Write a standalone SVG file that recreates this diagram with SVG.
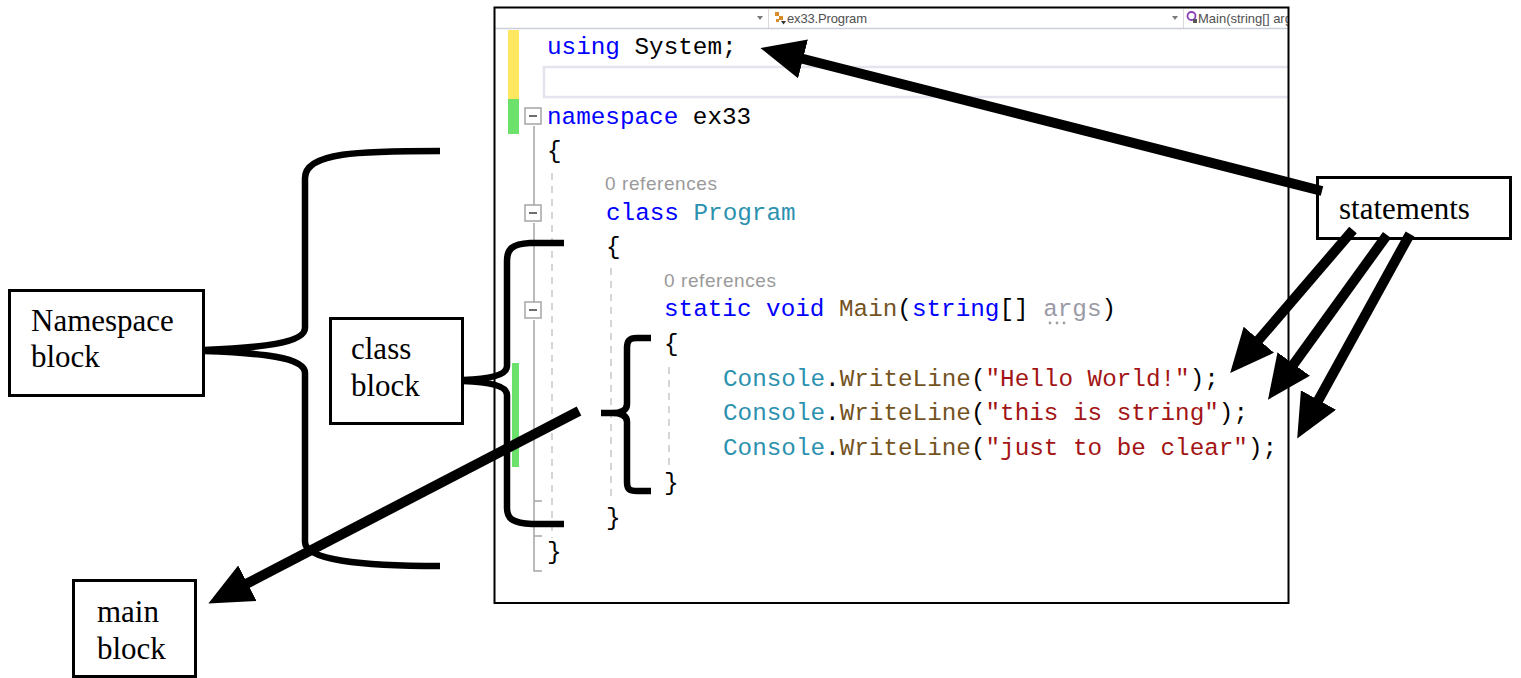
<svg xmlns="http://www.w3.org/2000/svg" width="1521" height="678" viewBox="0 0 1521 678">
  <defs>
    <style>
      .code { font-family: "Liberation Mono", "DejaVu Sans Mono", monospace; font-size: 24.3px; fill: #000000; }
      .kw { fill: #0000FF; }
      .ty { fill: #2B91AF; }
      .fn { fill: #74531F; }
      .st { fill: #A31515; }
      .unused { fill: #9A9AA6; }
      .lens { font-family: "Liberation Sans", "Noto Sans", sans-serif; font-size: 19px; fill: #9A9A9A; }
      .hdr { font-family: "Liberation Sans", "Noto Sans", sans-serif; font-size: 13px; fill: #505050; }
      .fold { fill: #FFFFFF; stroke: #A5A5A5; stroke-width: 1.5; }
      .foldmark { stroke: #6E6E6E; stroke-width: 2; }
      .guide { stroke: #A5A5A5; stroke-width: 1.5; fill: none; }
      .dash { stroke: #C8C8C8; stroke-width: 1.5; stroke-dasharray: 7 6; fill: none; }
      .label-box { fill: #FFFFFF; stroke: #000000; stroke-width: 3; }
      .label { font-family: "Liberation Serif", "Times New Roman", serif; font-size: 31px; fill: #000000; }
      .brace { fill: none; stroke: #000000; stroke-width: 6.5; stroke-linejoin: round; }
      .arrow { fill: none; stroke: #000000; stroke-width: 10; marker-end: url(#head); }
    </style>
    <marker id="head" markerUnits="userSpaceOnUse" viewBox="0 0 44 40" markerWidth="44" markerHeight="40" refX="32" refY="20" orient="auto">
      <path d="M0,0 L44,20 L0,40 Z" fill="#000000"/>
    </marker>
    <clipPath id="editor-clip">
      <rect x="495" y="8" width="793" height="594"/>
    </clipPath>
  </defs>

  <rect width="1521" height="678" fill="#FFFFFF"/>

  <!-- code editor screenshot -->
  <g id="code-editor">
    <g clip-path="url(#editor-clip)">
      <rect x="495" y="8" width="793" height="594" fill="#FFFFFF"/>
      <!-- navigation bar -->
      <line x1="495" y1="28.5" x2="1288" y2="28.5" stroke="#CCCEDB" stroke-width="1.5"/>
      <path d="M757,16 L763,16 L760,20 Z" fill="#7A7A7A"/>
      <line x1="768.5" y1="9" x2="768.5" y2="28" stroke="#DADADA" stroke-width="1"/>
      <g fill="#D98B2B">
        <rect x="775" y="12" width="4" height="4"/>
        <rect x="779" y="16" width="4" height="4"/>
        <rect x="776" y="19" width="3" height="3"/>
      </g>
      <path d="M781,21 L786,21 L783.5,24.5 Z" fill="#333333"/>
      <text class="hdr" x="787" y="23" textLength="80">ex33.Program</text>
      <path d="M1172,16 L1178,16 L1175,20 Z" fill="#7A7A7A"/>
      <line x1="1183.5" y1="9" x2="1183.5" y2="28" stroke="#DADADA" stroke-width="1"/>
      <circle cx="1191.5" cy="16" r="4" fill="none" stroke="#8A3FB8" stroke-width="1.8"/>
      <rect x="1193" y="19" width="4" height="4" fill="#555555"/>
      <text class="hdr" x="1198" y="23">Main(string[] args)</text>

      <!-- change bars -->
      <rect x="508" y="30" width="11" height="69" fill="#FFE85F"/>
      <rect x="508" y="99" width="11" height="35" fill="#6CE26C"/>
      <rect x="512" y="363" width="7" height="104" fill="#6CE26C"/>

      <!-- empty current line -->
      <rect x="544" y="67" width="760" height="30" fill="none" stroke="#E4E4EF" stroke-width="2.5"/>

      <!-- outlining margin -->
      <line class="guide" x1="534" y1="126" x2="534" y2="205"/>
      <line class="guide" x1="534" y1="223" x2="534" y2="302"/>
      <path class="guide" d="M534,320 L534,571 L542,571 M534,501 L542,501 M534,536 L542,536"/>
      <rect class="fold" x="525" y="108" width="16" height="16"/>
      <line class="foldmark" x1="529" y1="116" x2="537" y2="116"/>
      <rect class="fold" x="525" y="205" width="16" height="16"/>
      <line class="foldmark" x1="529" y1="213" x2="537" y2="213"/>
      <rect class="fold" x="525" y="302" width="16" height="16"/>
      <line class="foldmark" x1="529" y1="310" x2="537" y2="310"/>

      <!-- indent guides -->
      <line class="dash" x1="552" y1="173" x2="552" y2="538"/>
      <line class="dash" x1="611" y1="268" x2="611" y2="502"/>
      <line class="dash" x1="669" y1="367" x2="669" y2="468"/>

      <!-- source text -->
      <text class="code" x="547" y="54"><tspan class="kw">using</tspan> System;</text>
      <text class="code" x="547" y="124"><tspan class="kw">namespace</tspan> ex33</text>
      <text class="code" x="547" y="158">{</text>
      <text class="lens" x="605" y="190" textLength="112">0 references</text>
      <text class="code" x="606" y="220"><tspan class="kw">class</tspan> <tspan class="ty">Program</tspan></text>
      <text class="code" x="606" y="254">{</text>
      <text class="lens" x="664" y="287" textLength="112">0 references</text>
      <text class="code" x="664" y="316"><tspan class="kw">static</tspan> <tspan class="kw">void</tspan> <tspan class="fn">Main</tspan>(<tspan class="kw">string</tspan>[] <tspan class="unused">args</tspan>)</text>
      <g fill="#A0A0A0">
        <circle cx="1050" cy="323" r="1.4"/>
        <circle cx="1057" cy="323" r="1.4"/>
        <circle cx="1064" cy="323" r="1.4"/>
      </g>
      <text class="code" x="664" y="351">{</text>
      <text class="code" x="723" y="386"><tspan class="ty">Console</tspan>.<tspan class="fn">WriteLine</tspan>(<tspan class="st">"Hello World!"</tspan>);</text>
      <text class="code" x="723" y="420"><tspan class="ty">Console</tspan>.<tspan class="fn">WriteLine</tspan>(<tspan class="st">"this is string"</tspan>);</text>
      <text class="code" x="723" y="455"><tspan class="ty">Console</tspan>.<tspan class="fn">WriteLine</tspan>(<tspan class="st">"just to be clear"</tspan>);</text>
      <text class="code" x="664" y="490">}</text>
      <text class="code" x="606" y="525">}</text>
      <text class="code" x="547" y="559">}</text>
    </g>
    <rect x="494.5" y="7.5" width="794" height="595.5" fill="none" stroke="#000000" stroke-width="2"/>
  </g>

  <!-- brackets marking each block -->
  <g id="braces">
    <path id="brace-namespace" class="brace" d="M440,151 C360,151 305,152 305,178 L305,328 C305,343 260,348 204,350 M204,351 C260,353 305,357 305,373 L305,542 C305,560 360,566 440,566"/>
    <path id="brace-class" class="brace" d="M564,243 L530,243 C512,244 507,249 507,261 L507,366 C507,375 490,379 463,380 M463,381 C490,382 507,386 507,395 L507,508 C507,519 513,523 532,524 L564,524"/>
    <path id="brace-main" class="brace" d="M651,338 L637,338 C629,338 627,341 627,348 L627,404 C627,410 622,413 612,413 L601,413 M612,413 C622,413 627,416 627,422 L627,482 C627,489 629,491 637,491 L651,491"/>
  </g>

  <!-- labels -->
  <g id="node-namespace-block">
    <rect class="label-box" x="9.5" y="290.5" width="194" height="105"/>
    <text class="label" x="31" y="331">Namespace</text>
    <text class="label" x="31" y="367">block</text>
  </g>
  <g id="node-class-block">
    <rect class="label-box" x="330.5" y="318.5" width="132" height="105"/>
    <text class="label" x="351" y="359">class</text>
    <text class="label" x="351" y="396">block</text>
  </g>
  <g id="node-main-block">
    <rect class="label-box" x="73.5" y="580.5" width="122" height="96"/>
    <text class="label" x="97" y="622">main</text>
    <text class="label" x="97" y="659">block</text>
  </g>
  <g id="node-statements">
    <rect class="label-box" x="1317.5" y="177.5" width="193" height="61"/>
    <text class="label" x="1339" y="219">statements</text>
  </g>

  <!-- arrows -->
  <g id="connectors">
    <line class="arrow" x1="1322" y1="191" x2="772" y2="51"/>
    <line class="arrow" x1="1353" y1="230" x2="1238" y2="364"/>
    <line class="arrow" x1="1387" y1="235" x2="1275" y2="390"/>
    <line class="arrow" x1="1410" y1="234" x2="1303" y2="428"/>
    <line class="arrow" x1="579" y1="411" x2="219" y2="598"/>
  </g>
</svg>
